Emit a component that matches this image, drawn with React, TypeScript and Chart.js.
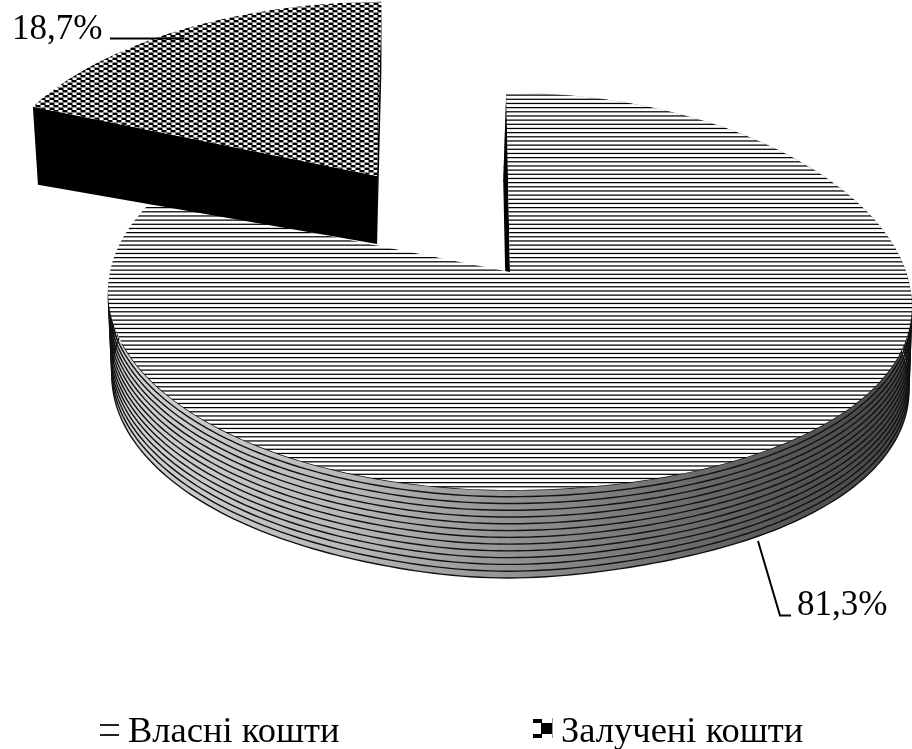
import React, { useEffect, useRef } from "react";
import { Chart, registerables } from "chart.js";

Chart.register(...registerables);

const categories = ["Власні кошти", "Залучені кошти"];
const shares = [81.3, 18.7];
const explode = [0, 62];
const shareLabels = ["81,3%", "18,7%"];

const W = 912;
const H = 749;
const FONT = '"Liberation Serif", serif';

// projection of the pie's plane
const CX = 510;
const CY = 272;
const RX = 400;
const RY = 196.6;
const K = 0.098;
const Q = 3.5e-4;

function stripePattern(): CanvasPattern {
  const rows = 25;
  const c = document.createElement("canvas");
  c.width = 4;
  c.height = rows;
  const g = c.getContext("2d")!;
  const width = 1.25;
  const period = rows / 6;
  for (let r = 0; r < rows; r++) {
    let cover = 0;
    for (let n = 0; n < 6; n++) {
      const a = (7 + n * period) % rows;
      for (const s of [a, a - rows]) {
        cover += Math.max(0, Math.min(r + 1, s + width) - Math.max(r, s));
      }
    }
    const v = Math.round(255 * (1 - Math.min(1, cover)));
    g.fillStyle = `rgb(${v},${v},${v})`;
    g.fillRect(0, r, 4, 1);
  }
  return g.createPattern(c, "repeat")!;
}

function checkerPattern(): CanvasPattern {
  const c = document.createElement("canvas");
  c.width = 9;
  c.height = 5;
  const g = c.getContext("2d")!;
  g.fillStyle = "#fff";
  g.fillRect(0, 0, 9, 5);
  const row = (y: number, h: number, x0: number) => {
    g.fillStyle = "#000";
    g.fillRect(x0, y, 4, h);
    g.fillStyle = "#808080";
    g.fillRect((x0 + 4) % 9, y, 1, h);
    g.fillRect((x0 + 8) % 9, y, 1, h);
  };
  row(0, 2, 0);
  g.fillStyle = "#8a8a8a";
  g.fillRect(0, 2, 9, 1);
  row(3, 2, 5);
  return g.createPattern(c, "repeat")!;
}

type P = { x: number; y: number };

function planePoint(ou: number, ov: number, u: number, v: number): P {
  const w0 = 1 - K * ov;
  const ax = CX + (RX * ou) / w0;
  const ay = CY + (RY * ov) / w0;
  const w = 1 - K * (v + 0.6 * ov);
  const ry = (RY * v) / w;
  const x = ax + (RX * u) / w + ry * (ax - CX) * Q;
  const side = Math.max(0, x - CX);
  return { x, y: ay + ry + 9e-5 * side * side };
}

function drop(p: P, t: number, pulled: boolean): P {
  if (pulled) {
    return {
      x: p.x + 0.0147 * (378 - p.x) * t,
      y: p.y + (68 + 0.029 * (378 - p.x)) * t,
    };
  }
  const shift = p.x < CX ? -3 + 0.0169 * (CX - p.x) : -3;
  const dx = (p.x - CX) / 120;
  return {
    x: p.x + shift * t,
    y: p.y + (84 + 4 * Math.exp(-dx * dx)) * t,
  };
}

const plugin = {
  id: "pie3d",
  beforeDatasetsDraw(chart: any) {
    const ctx: CanvasRenderingContext2D = chart.ctx;
    const arcs = chart.getDatasetMeta(0).data;

    const geom = arcs.map((el: any) => {
      const { startAngle, endAngle } = el.getProps(["startAngle", "endAngle"], true);
      const mid = (startAngle + endAngle) / 2;
      const off = el.options.offset / 100;
      const ou = off * Math.cos(mid);
      const ov = off * Math.sin(mid);
      const pts: P[] = [];
      const steps = 240;
      for (let i = 0; i <= steps; i++) {
        const a = startAngle + ((endAngle - startAngle) * i) / steps;
        pts.push(planePoint(ou, ov, Math.cos(a), Math.sin(a)));
      }
      return { apex: planePoint(ou, ov, 0, 0), pts, fill: el.options.backgroundColor };
    });

    const path = (pts: P[]) => {
      pts.forEach((p, i) => {
        if (i === 0) ctx.moveTo(p.x, p.y);
        else ctx.lineTo(p.x, p.y);
      });
    };
    const poly = (pts: P[], fill: any) => {
      ctx.beginPath();
      path(pts);
      ctx.closePath();
      ctx.fillStyle = fill;
      ctx.fill();
    };

    ctx.save();

    // --- main slice
    const main = geom[0];
    const shade = ctx.createLinearGradient(108, 0, 912, 0);
    shade.addColorStop(0, "#d4d4d4");
    shade.addColorStop(0.3, "#b8b8b8");
    shade.addColorStop(0.5, "#939393");
    shade.addColorStop(0.85, "#565656");
    shade.addColorStop(1, "#444");
    poly([...main.pts, ...main.pts.map((p: P) => drop(p, 1, false)).reverse()], shade);
    ctx.strokeStyle = "#111";
    ctx.lineWidth = 1.4;
    const bands = 13;
    const front = main.pts.filter((p: P) => p.y > CY + 70);
    ctx.beginPath();
    path(front);
    ctx.stroke();
    for (let j = 1; j <= bands; j++) {
      ctx.beginPath();
      path(main.pts.map((p: P) => drop(p, j / bands, false)));
      ctx.stroke();
    }
    // inner wall showing in the gap
    const far = main.pts[0];
    poly([main.apex, far, drop(far, 1, false), drop(main.apex, 1, false)], "#000");
    poly([main.apex, ...main.pts], main.fill);

    // --- pulled-out slice
    const part = geom[1];
    const partEnd = part.pts[part.pts.length - 1];
    const partStart = part.pts[0];
    poly([part.apex, partStart, drop(partStart, 1, true), drop(part.apex, 1, true)], "#000");
    poly([part.apex, partEnd, drop(partEnd, 1, true), drop(part.apex, 1, true)], "#000");
    poly([part.apex, ...part.pts], part.fill);

    // --- leader lines
    ctx.strokeStyle = "#000";
    ctx.lineWidth = 2;
    ctx.beginPath();
    ctx.moveTo(110, 38.5);
    ctx.lineTo(184, 38.5);
    ctx.stroke();
    ctx.beginPath();
    ctx.moveTo(758, 541);
    ctx.lineTo(780, 615.5);
    ctx.lineTo(791, 615.5);
    ctx.stroke();

    // --- labels
    ctx.fillStyle = "#000";
    ctx.textBaseline = "alphabetic";
    ctx.textAlign = "left";
    ctx.font = `35px ${FONT}`;
    ctx.fillText(shareLabels[1], 12, 39);
    ctx.fillText(shareLabels[0], 797, 615);

    // --- legend
    ctx.font = `36.5px ${FONT}`;
    ctx.fillText(chart.data.labels[0], 128, 742);
    ctx.fillText(chart.data.labels[1], 561, 742);
    ctx.fillStyle = "#222";
    ctx.fillRect(100, 724, 19, 2);
    ctx.fillRect(100, 734, 19, 2);
    ctx.fillStyle = "#000";
    ctx.fillRect(541, 723, 11, 11);
    ctx.fillRect(533, 719, 9, 4);
    ctx.fillRect(533, 734, 9, 4);
    ctx.fillStyle = "#999";
    ctx.fillRect(552, 718, 1, 20);

    ctx.restore();
    return false;
  },
};

export default function App() {
  const ref = useRef<HTMLCanvasElement>(null);

  useEffect(() => {
    const chart = new Chart(ref.current!, {
      type: "pie",
      data: {
        labels: categories,
        datasets: [
          {
            data: shares,
            offset: explode,
            backgroundColor: [stripePattern(), checkerPattern()],
            borderWidth: 0,
          },
        ],
      },
      options: {
        responsive: false,
        animation: false,
        rotation: -0.6,
        events: [],
        plugins: { legend: { display: false }, tooltip: { enabled: false } },
      },
      plugins: [plugin],
    } as any);
    return () => chart.destroy();
  }, []);

  return (
    <div style={{ position: "absolute", left: 0, top: 0, width: W, height: H, background: "#fff" }}>
      <canvas ref={ref} width={W} height={H} style={{ display: "block" }} />
    </div>
  );
}
